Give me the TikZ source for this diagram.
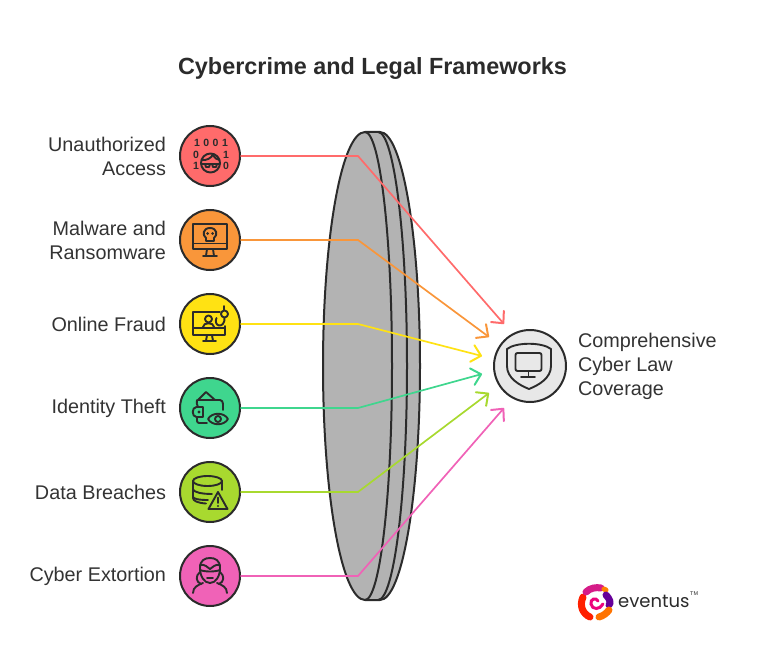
\documentclass[tikz,border=0pt]{standalone}
\usepackage{fontspec}
\setmainfont{Liberation Sans}
\newfontfamily\logofont{Poppins}
\usetikzlibrary{arrows.meta}

\definecolor{inkc}{HTML}{2B2B2B}
\definecolor{textc}{HTML}{333333}
\definecolor{lensc}{HTML}{B3B3B3}
\definecolor{hubc}{HTML}{E8E8E8}
\definecolor{redc}{HTML}{FF6B6B}
\definecolor{orangec}{HTML}{F9963A}
\definecolor{yellowc}{HTML}{FFE213}
\definecolor{greenc}{HTML}{3FD68E}
\definecolor{limec}{HTML}{A8D92F}
\definecolor{pinkc}{HTML}{F062B7}

\tikzset{
  badge/.style={circle,draw=inkc,line width=2pt,minimum size=60pt,inner sep=0pt},
  wire/.style={line width=1.7pt,line cap=round,-{Straight Barb[length=9pt,width=17pt,line width=2pt,round]}},
  glyph/.style={draw=inkc,line width=1.9pt,line cap=round,line join=round},
  lensline/.style={draw=inkc,line width=2pt},
  cause/.style={anchor=east,align=right,text=textc,font=\fontsize{19.8}{24}\selectfont},
  bits/.style={text=inkc,inner sep=0pt,align=center,font=\fontsize{10.5}{11}\selectfont\bfseries},
  swirl/.style={line width=7pt,line cap=round}
}

\begin{document}
\begin{tikzpicture}[x=1pt,y=-1pt]

\useasboundingbox (0,0) rectangle (764,669);

\node (title) at (372.5,68.5) [text=inkc,font=\fontsize{23.4}{28}\selectfont\bfseries] {Cybercrime and Legal Frameworks};

% lens
\draw[lensline,fill=lensc] (380,132) arc[start angle=270,end angle=450,x radius=40,y radius=234]
  -- (365,600) arc[start angle=90,end angle=270,x radius=42,y radius=234] -- cycle;
\draw[lensline] (378,132) arc[start angle=270,end angle=450,x radius=29,y radius=234];
\draw[lensline] (365,132) arc[start angle=270,end angle=450,x radius=27,y radius=234];

% circles
\node[badge,fill=redc] (access) at (210,156) {};
\node[badge,fill=orangec] (malware) at (210,240) {};
\node[badge,fill=yellowc] (fraud) at (210,324) {};
\node[badge,fill=greenc] (identity) at (210,408) {};
\node[badge,fill=limec] (breach) at (210,492) {};
\node[badge,fill=pinkc] (extort) at (210,576) {};
\node[circle,draw=inkc,line width=2pt,fill=hubc,minimum size=72pt,inner sep=0pt] (law) at (530,366) {};

% labels
\node[cause] (accesstext) at (169.5,156.2) {Unauthorized\\Access};
\node[cause] (malwaretext) at (169.5,240.2) {Malware and\\Ransomware};
\node[cause] (fraudtext) at (169.5,324.2) {Online Fraud};
\node[cause] (identitytext) at (169.5,408.2) {Identity Theft};
\node[cause] (breachtext) at (169.5,492.2) {Data Breaches};
\node[cause] (extorttext) at (169.5,576.2) {Cyber Extortion};
\node[anchor=west,align=left,text=textc,font=\fontsize{19.8}{24}\selectfont] (lawtext) at (574.5,366.2) {Comprehensive\\Cyber Law\\Coverage};

% connectors
\coordinate (bendA) at (358,156);
\coordinate (bendB) at (358,240);
\coordinate (bendC) at (358,324);
\coordinate (bendD) at (358,408);
\coordinate (bendE) at (358,492);
\coordinate (bendF) at (358,576);
\coordinate (tipA) at (504,324);
\coordinate (tipB) at (489,337);
\coordinate (tipC) at (482,356);
\coordinate (tipD) at (482,374);
\coordinate (tipE) at (489,393);
\coordinate (tipF) at (504,408);

\draw[wire,draw=redc] (access.east) -- (bendA) -- (tipA);
\draw[wire,draw=orangec] (malware.east) -- (bendB) -- (tipB);
\draw[wire,draw=yellowc] (fraud.east) -- (bendC) -- (tipC);
\draw[wire,draw=greenc] (identity.east) -- (bendD) -- (tipD);
\draw[wire,draw=limec] (breach.east) -- (bendE) -- (tipE);
\draw[wire,draw=pinkc] (extort.east) -- (bendF) -- (tipF);

% icon: bits and masked face
\node[bits] (bitstop) at (211,143) {1\,\,0\,\,0\,\,1};
\node[bits] (bitsleft) at (196,160) {0\\1};
\node[bits] (bitsright) at (226,160) {1\\0};
\draw[glyph] (210.5,163) circle (9.5);
\draw[glyph] (201.5,160) .. controls (206,161) and (212,158) .. (213,154);
\draw[glyph] (213,155) .. controls (215,158) and (217,160) .. (219.5,160);
\draw[glyph] (201,164) -- (220,164);
\draw[glyph] (205,164) -- (206,167) -- (209,167) -- (210,164);
\draw[glyph] (212,164) -- (213,167) -- (216,167) -- (217,164);

% icon: monitor with skull
\draw[glyph] (193,224) rectangle (227,249);
\draw[glyph] (193,243.5) -- (227,243.5);
\draw[glyph] (207,249) -- (206,256) (213,249) -- (214,256) (203,256) -- (217,256);
\draw[glyph] (206,238) .. controls (202,235) and (203,228) .. (210,228) .. controls (217,228) and (218,235) .. (214,238) -- (214,241) -- (206,241) -- cycle;
\fill[inkc] (207.5,233.5) circle (1.5) (212.5,233.5) circle (1.5);

% icon: monitor with hook
\draw[glyph] (220,312) -- (193,312) -- (193,335) -- (225,335) -- (225,326);
\draw[glyph] (193,328) -- (225,328);
\draw[glyph] (207,335) -- (206,341) (212,335) -- (213,341) (203,341) -- (216,341);
\draw[glyph] (208.5,319) circle (3.5);
\draw[glyph] (203,327) .. controls (203,322) and (214,322) .. (214,327);
\draw[glyph] (224,306) -- (224,310);
\draw[glyph] (224.5,314) circle (3.5);
\draw[glyph] (224.5,317.5) .. controls (225,323) and (222,326) .. (219,325.5) .. controls (216,325) and (215,321) .. (216.5,318);

% icon: wallet with eye
\draw[glyph] (198,400) -- (206,392) -- (215,400);
\draw[glyph] (198,400) -- (220,400) .. controls (222,400) and (223,402) .. (223,404) -- (223,410);
\draw[glyph] (197,400) .. controls (196,402) and (197,405) .. (198,407);
\draw[glyph] (203,407) -- (196.5,407) .. controls (191.5,407) and (191.5,417) .. (196.5,417) -- (203,417) -- (203,407);
\draw[glyph] (197,417) -- (197,421) .. controls (197,422) and (198,423) .. (199,423) -- (207,423);
\fill[inkc] (199,412) circle (1.6);
\draw[glyph] (208,419) .. controls (212,412) and (224,412) .. (228,419) .. controls (224,426) and (212,426) .. (208,419) -- cycle;
\draw[glyph] (218,419) circle (3);

% icon: database with warning
\draw[glyph] (207.5,481) ellipse (14.5 and 5);
\draw[glyph] (193,481) -- (193,498) .. controls (193,501) and (198,503) .. (206,503.5);
\draw[glyph] (222,481) -- (222,490);
\draw[glyph] (193,489.5) .. controls (194,492) and (201,494) .. (212,494);
\draw[glyph] (193,497) .. controls (194,499) and (199,500) .. (208,500);
\draw[glyph,fill=limec] (218,492) -- (227.5,509) -- (208.5,509) -- cycle;
\draw[glyph] (218,497.5) -- (218,503);
\fill[inkc] (218,506) circle (1.2);

% icon: masked person
\draw[glyph] (200,568) .. controls (200,560) and (205,558) .. (210,558) .. controls (215,558) and (220,560) .. (220,568) .. controls (220,576) and (216,583) .. (210,583) .. controls (204,583) and (200,576) .. (200,568) -- cycle;
\draw[glyph] (200,565) .. controls (205,564) and (207,567) .. (210,569) .. controls (213,567) and (215,564) .. (220,565) -- (220,570) .. controls (215,572) and (205,572) .. (200,570) -- cycle;
\draw[glyph] (207,578) -- (213,578);
\draw[glyph] (200,572) .. controls (195,576) and (196,582) .. (201,584);
\draw[glyph] (220,572) .. controls (225,576) and (224,582) .. (219,584);
\draw[glyph] (193,593) .. controls (193,587) and (198,585) .. (203,583);
\draw[glyph] (227,593) .. controls (227,587) and (222,585) .. (217,583);

% icon: shield with monitor
\draw[glyph] (507,349) .. controls (516,342) and (542,342) .. (551,349) -- (551,366)
  .. controls (551,378) and (539,385) .. (529,389) .. controls (519,385) and (507,378) .. (507,366) -- cycle;
\draw[glyph,rounded corners=2pt] (515.5,353) rectangle (541.5,371);
\draw[glyph] (528.5,371) -- (528.5,377) (521,377) -- (535,377);

% logo
\draw[swirl,draw=red!75!orange] (583,597) .. controls (579,606) and (583,614) .. (590,617);
\draw[swirl,draw=magenta!75!violet] (586,592) .. controls (590,588) and (596,587) .. (601,588);
\draw[swirl,draw=orange,line width=5pt] (604,589) -- (606,590);
\draw[swirl,draw=violet!80!blue] (606,595) .. controls (610,599) and (611,603) .. (609,605);
\draw[swirl,draw=orange!90!red] (599,617) .. controls (603,616) and (607,613) .. (609,610);
\draw[line width=3pt,draw=magenta!85!red,line cap=round] (598,601) .. controls (596,597) and (590,599) .. (591,604) .. controls (592,610) and (600,610) .. (603,604);
\node[anchor=base west,inner sep=0pt,text=inkc,font=\fontsize{18}{20}\selectfont\logofont] (brand) at (618,607) {eventus};
\node[anchor=west,inner sep=0pt,text=inkc,font=\fontsize{5.5}{6}\selectfont] (brandmark) at (690,594) {TM};

\end{tikzpicture}
\end{document}
